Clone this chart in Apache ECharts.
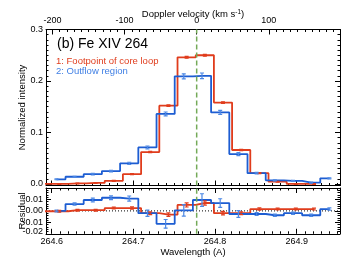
<!DOCTYPE html>
<html><head><meta charset="utf-8">
<script src="https://cdn.jsdelivr.net/npm/echarts@6/dist/echarts.min.js"></script>
<style>html,body{margin:0;padding:0;background:#fff}#c{width:354px;height:266px}</style>
</head><body><div id="c"></div>
<script>
// ---- data ----
const redWave = [264.5869, 264.6092, 264.6315, 264.6538, 264.6760, 264.6983, 264.7206, 264.7429, 264.7652, 264.7875, 264.8097, 264.8320, 264.8543, 264.8766, 264.8989, 264.9212];
const redInt  = [0.0, 0.0, 0.001, 0.002, 0.006, 0.019, 0.062, 0.152, 0.246, 0.250, 0.158, 0.066, 0.021, 0.0045, 0.0, 0.0];
const redErr  = [0.0008, 0.0008, 0.0008, 0.0008, 0.0008, 0.001, 0.0012, 0.0015, 0.0018, 0.0018, 0.0015, 0.0012, 0.001, 0.0008, 0.0008, 0.0008];
const redRes  = [-0.0003, -0.0003, 0.0006, 0.0006, 0.0025, 0.0025, -0.002, -0.0033, 0.0052, 0.0069, -0.002, -0.002, 0.0016, 0.0016, 0.0016, 0.0016];

const blueWave = [264.6058, 264.6280, 264.6503, 264.6726, 264.6949, 264.7172, 264.7395, 264.7617, 264.7840, 264.8063, 264.8286, 264.8509, 264.8732, 264.8955, 264.9177, 264.9400];
const blueInt  = [0.009, 0.014, 0.019, 0.025, 0.040, 0.071, 0.136, 0.209, 0.210, 0.139, 0.058, 0.021, 0.007, 0.006, 0.0025, 0.011];
const blueErr  = [0.0008, 0.001, 0.0016, 0.0016, 0.0022, 0.0027, 0.0038, 0.005, 0.0055, 0.0038, 0.003, 0.0013, 0.001, 0.001, 0.001, 0.001];
const blueRes  = [0.0, 0.006, 0.0095, 0.0115, 0.0108, -0.002, -0.0113, 0.0005, 0.0095, 0.0068, -0.0027, -0.0027, -0.0038, -0.002, -0.0038, 0.0016];

const restWave = 264.7775;          // Doppler velocity zero
const waveRange = [264.593, 264.953];
const intRange = [-0.003, 0.3];
const resRange = [-0.02, 0.02];
const seriesNames = ['1: Footpoint of core loop', '2: Outflow region'];
const titleText = '(b) Fe XIV 264';

// ---- derived ----
const C = 299792.458;
const velRange = waveRange.map(w => (w / restWave - 1) * C);
const FONT = 'Liberation Sans';
const RED = '#e03c1c', BLUE = '#1d5dd2', BLUE_T = '#3f7fe4', BLUE_E = '#4d88e4', GREEN = '#74aa58';

const zip = (xs, ys) => xs.map((x, i) => [x, ys[i]]);
const zip3 = (xs, ys, es) => xs.map((x, i) => [x, ys[i], es[i]]);

function errRender(color) {
  return function (params, api) {
    const x = api.value(0), y = api.value(1), e = api.value(2);
    const p0 = api.coord([x, y - e]);
    const p1 = api.coord([x, y + e]);
    const w = 2;
    const st = { stroke: color, lineWidth: 1.2 };
    return {
      type: 'group',
      children: [
        { type: 'line', shape: { x1: p0[0], y1: p0[1], x2: p1[0], y2: p1[1] }, style: st },
        { type: 'line', shape: { x1: p0[0] - w, y1: p0[1], x2: p0[0] + w, y2: p0[1] }, style: st },
        { type: 'line', shape: { x1: p1[0] - w, y1: p1[1], x2: p1[0] + w, y2: p1[1] }, style: st }
      ]
    };
  };
}

const axLine = { show: true, onZero: false, lineStyle: { color: '#000', width: 1 } };
const tick = { show: true, inside: true, length: 5, lineStyle: { color: '#000', width: 1 } };
const labelStyle = { color: '#000', fontSize: 9, fontFamily: FONT };
const nameStyle = { color: '#000', fontSize: 9.5, fontFamily: FONT };

function xAx(grid, pos, range, opts) {
  return Object.assign({
    gridIndex: grid, type: 'value', position: pos, min: range[0], max: range[1], splitNumber: 4,
    axisLine: axLine, axisTick: tick, nameMoveOverlap: false,
    minorTick: { show: true, splitNumber: 10, length: 2.5, lineStyle: { color: '#000', width: 1 } },
    splitLine: { show: false }, minorSplitLine: { show: false },
    axisLabel: { show: false }
  }, opts || {});
}
function yAx(grid, pos, range, minor, opts) {
  return Object.assign({
    gridIndex: grid, type: 'value', position: pos, min: range[0], max: range[1],
    axisLine: axLine, axisTick: tick, nameMoveOverlap: false,
    minorTick: { show: true, splitNumber: minor, length: 2.5, lineStyle: { color: '#000', width: 1 } },
    splitLine: { show: false }, minorSplitLine: { show: false },
    axisLabel: { show: false }
  }, opts || {});
}

const stepLine = (name, data, color, xi, yi) => ({
  name: name, type: 'line', step: 'middle', data: data, xAxisIndex: xi, yAxisIndex: yi,
  showSymbol: false, symbol: 'none', clip: true, silent: true, animation: false,
  lineStyle: { color: color, width: 1.8 }, itemStyle: { color: color }, emphasis: { disabled: true }, z: 3
});
const errSeries = (data, color, xi, yi) => ({
  type: 'custom', data: data, xAxisIndex: xi, yAxisIndex: yi, clip: true, silent: true,
  encode: { x: 0, y: 1 }, renderItem: errRender(color), z: 4
});
const plainLine = (data, color, dash, width, xi, yi, z) => ({
  type: 'line', data: data, xAxisIndex: xi, yAxisIndex: yi, showSymbol: false, symbol: 'none',
  silent: true, clip: true, lineStyle: { color: color, width: width, type: dash }, emphasis: { disabled: true }, z: z
});

const chart = echarts.init(document.getElementById('c'), null, { renderer: 'canvas' });
chart.setOption({
  animation: false,
  backgroundColor: '#fff',
  title: {
    text: titleText, left: 57, top: 37.5, padding: 0,
    textStyle: { fontSize: 14, fontWeight: 'normal', fontFamily: FONT, color: '#000' }
  },
  legend: {
    show: true, orient: 'vertical', left: 51, top: 56.5, padding: 0, itemGap: 0,
    itemWidth: 0, itemHeight: 0, icon: 'none', selectedMode: false,
    textStyle: { fontSize: 9.5, fontFamily: FONT, padding: 0 },
    data: [
      { name: seriesNames[0], textStyle: { color: RED } },
      { name: seriesNames[1], textStyle: { color: BLUE_T } }
    ]
  },
  grid: [
    { left: 46, right: 14, top: 29.5, height: 156, outerBoundsMode: 'none', containLabel: false },
    { left: 46, right: 14, top: 188, height: 45.8, outerBoundsMode: 'none', containLabel: false }
  ],
  xAxis: [
    xAx(0, 'bottom', waveRange),
    xAx(0, 'top', velRange, {
      name: 'Doppler velocity (km s{sup|-1})', nameLocation: 'middle', nameGap: 9,
      nameTextStyle: Object.assign({}, nameStyle, { rich: { sup: { fontSize: 6.5, fontFamily: FONT, color: '#000', verticalAlign: 'top', padding: [0, 0, 5, 0] } } }),
      axisLabel: Object.assign({ show: true, margin: 4, showMinLabel: false, showMaxLabel: false }, labelStyle)
    }),
    xAx(1, 'bottom', waveRange, {
      name: 'Wavelength (A)', nameLocation: 'middle', nameGap: 14, nameTextStyle: nameStyle,
      axisLabel: Object.assign({ show: true, margin: 3, showMinLabel: false, showMaxLabel: false,
        formatter: v => v.toFixed(1) }, labelStyle)
    }),
    xAx(1, 'top', waveRange)
  ],
  yAxis: [
    yAx(0, 'left', intRange, 10, {
      splitNumber: 3,
      name: 'Normalized intensity', nameLocation: 'middle', nameGap: 19, nameRotate: 90, nameTextStyle: nameStyle,
      axisLabel: Object.assign({ show: true, margin: 3, showMinLabel: false, formatter: v => v.toFixed(1) }, labelStyle)
    }),
    yAx(0, 'right', intRange, 10, { splitNumber: 3 }),
    yAx(1, 'left', resRange, 5, {
      interval: 0.01,
      name: 'Residual', nameLocation: 'middle', nameGap: 19, nameRotate: 90, nameTextStyle: nameStyle,
      axisLabel: Object.assign({ show: true, margin: 3, showMaxLabel: false,
        formatter: v => (v < -0.015 ? '{lo|' + v.toFixed(2) + '}' : v.toFixed(2)),
        rich: { lo: { fontSize: 9, fontFamily: FONT, color: '#000', padding: [0, 0, 4, 0] } } }, labelStyle)
    }),
    yAx(1, 'right', resRange, 5, { interval: 0.01 })
  ],
  series: [
    stepLine(seriesNames[0], zip(redWave, redInt), RED, 0, 0),
    stepLine(seriesNames[1], zip(blueWave, blueInt), BLUE, 0, 0),
    errSeries(zip3(redWave, redInt, redErr), RED, 0, 0),
    errSeries(zip3(blueWave, blueInt, blueErr), BLUE_E, 0, 0),
    plainLine([[restWave, intRange[0]], [restWave, intRange[1]]], GREEN, [5, 3], 1.5, 0, 0, 6),

    plainLine([[waveRange[0], 0], [waveRange[1], 0]], '#000', [1, 2], 1, 2, 2, 2),
    stepLine('res1', zip(redWave, redRes), RED, 2, 2),
    stepLine('res2', zip(blueWave, blueRes), BLUE, 2, 2),
    errSeries(zip3(redWave, redRes, redErr), RED, 2, 2),
    errSeries(zip3(blueWave, blueRes, blueErr), BLUE_E, 2, 2),
    plainLine([[restWave, resRange[0]], [restWave, resRange[1]]], GREEN, [5, 3], 1.5, 2, 2, 6)
  ]
});
</script>
</body></html>
